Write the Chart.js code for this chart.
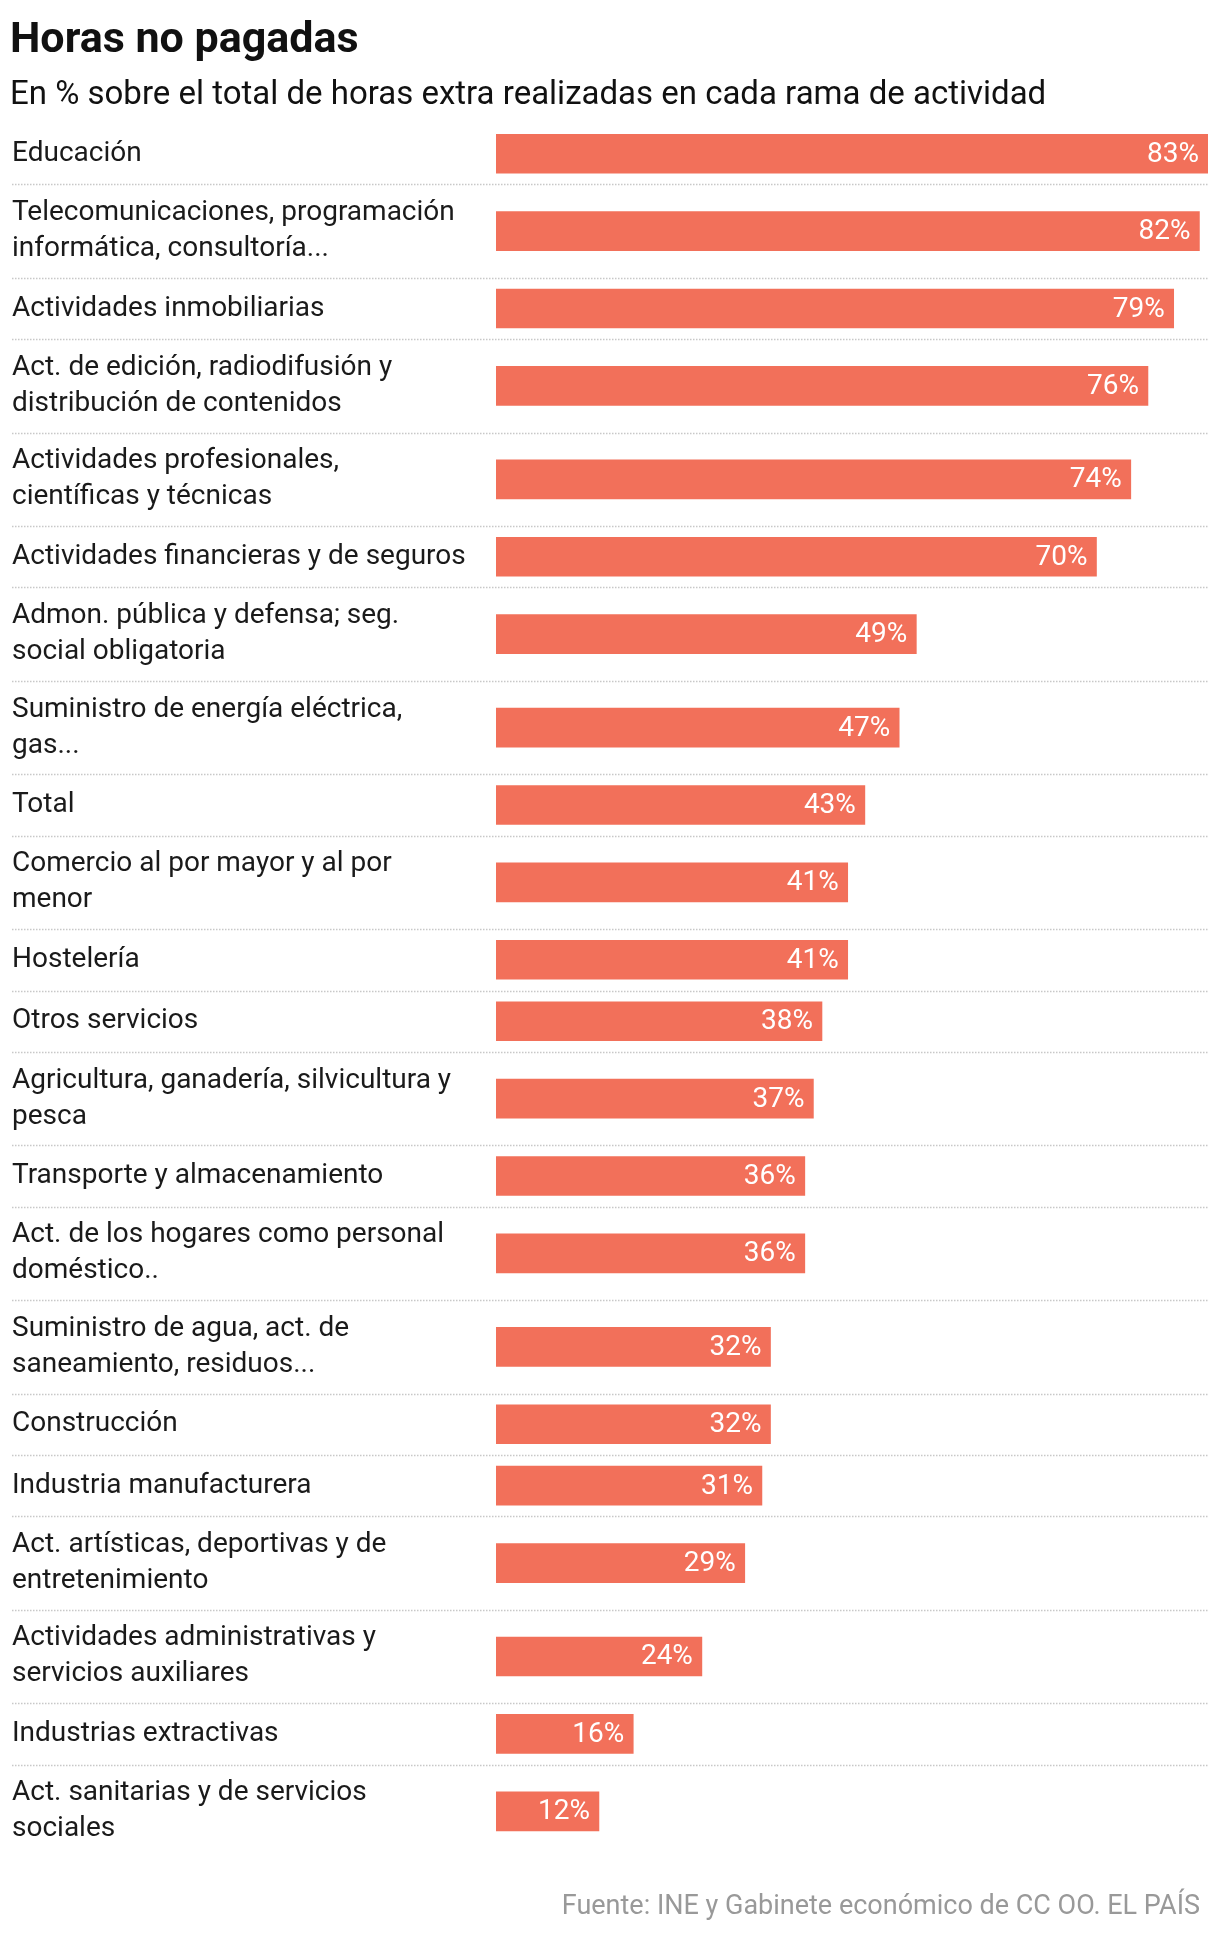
<!DOCTYPE html>
<html><head><meta charset="utf-8">
<script src="https://cdn.jsdelivr.net/npm/chart.js@4"></script>
<style>html,body{margin:0;padding:0;background:#fff}#w{width:1220px;height:1946px}</style>
</head><body><div id="w"><canvas id="c"></canvas></div>
<script>
const categories = [
 ["Educación"],
 ["Telecomunicaciones, programación","informática, consultoría..."],
 ["Actividades inmobiliarias"],
 ["Act. de edición, radiodifusión y","distribución de contenidos"],
 ["Actividades profesionales,","científicas y técnicas"],
 ["Actividades financieras y de seguros"],
 ["Admon. pública y defensa; seg.","social obligatoria"],
 ["Suministro de energía eléctrica,","gas..."],
 ["Total"],
 ["Comercio al por mayor y al por","menor"],
 ["Hostelería"],
 ["Otros servicios"],
 ["Agricultura, ganadería, silvicultura y","pesca"],
 ["Transporte y almacenamiento"],
 ["Act. de los hogares como personal","doméstico.."],
 ["Suministro de agua, act. de","saneamiento, residuos..."],
 ["Construcción"],
 ["Industria manufacturera"],
 ["Act. artísticas, deportivas y de","entretenimiento"],
 ["Actividades administrativas y","servicios auxiliares"],
 ["Industrias extractivas"],
 ["Act. sanitarias y de servicios","sociales"]
];
const values = [83,82,79,76,74,70,49,47,43,41,41,38,37,36,36,32,32,31,29,24,16,12];
const title = "Horas no pagadas";
const subtitle = "En % sobre el total de horas extra realizadas en cada rama de actividad";
const source = "Fuente: INE y Gabinete económico de CC OO. EL PAÍS";

const rowH = categories.map(l => l.length > 1 ? 1.52 : 1);
const centers = []; const bounds = []; let acc = 0;
rowH.forEach(h => { centers.push(acc + h/2); acc += h; bounds.push(acc); });
const total = acc;

const FONT = "Roboto, 'Noto Sans', sans-serif";
const deco = {
 id:'deco',
 afterDraw(ch){
  const c = ch.ctx, y = ch.scales.y, area = ch.chartArea;
  c.save();
  c.fillStyle='#111'; c.textBaseline='alphabetic'; c.textAlign='left';
  c.font = "bold 43px "+FONT; c.fillText(title, 10, 52);
  c.font = "33px "+FONT; c.fillText(subtitle, 10, 104);
  c.strokeStyle='#c8c8c8'; c.lineWidth=1.5; c.setLineDash([1.5,1.5]);
  bounds.slice(0,-1).forEach(b=>{ const py=Math.round(y.getPixelForValue(b))+0.5; c.beginPath(); c.moveTo(12,py); c.lineTo(area.right,py); c.stroke(); });
  c.setLineDash([]);
  c.font = "28px "+FONT; c.fillStyle='#1a1a1a'; c.textBaseline='middle';
  categories.forEach((l,i)=>{ const py=y.getPixelForValue(centers[i]); const n=l.length;
    l.forEach((t,k)=>c.fillText(t,12,py+(k-(n-1)/2)*36)); });
  const meta = ch.getDatasetMeta(0); c.fillStyle='#fff'; c.textAlign='right';
  meta.data.forEach((b,i)=>c.fillText(values[i]+'%', b.x-9, b.y+1));
  c.font = "27px "+FONT; c.fillStyle='#999'; c.textBaseline='alphabetic';
  c.fillText(source, 1200, 1914);
  c.restore();
 }
};
new Chart(document.getElementById('c'), {
 type:'bar',
 data:{ datasets:[{ data: values.map((v,i)=>({x:v,y:centers[i]})), backgroundColor:'#F2705A', barThickness:39, borderWidth:0 }]},
 options:{
  indexAxis:'y', responsive:true, maintainAspectRatio:false, animation:false,
  layout:{padding:{left:496,right:12,top:123,bottom:88}},
  scales:{ x:{type:'linear',min:0,max:83,display:false,offset:false}, y:{type:'linear',min:0,max:total,reverse:true,display:false,offset:false} },
  plugins:{legend:{display:false},tooltip:{enabled:false}}
 },
 plugins:[deco]
});
</script></body></html>
